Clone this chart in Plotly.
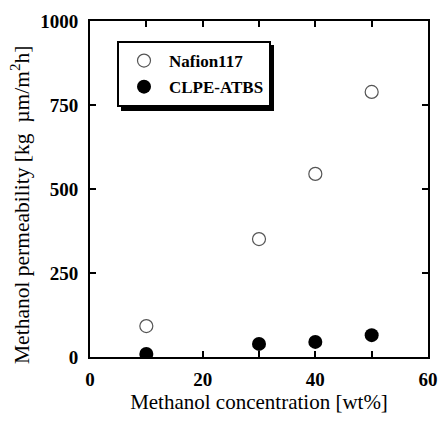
import plotly.graph_objects as go

conc = [10, 30, 40, 50]
nafion = [92, 351, 545, 789]
clpe = [9, 39, 45, 65]
series_names = ["Nafion117", "CLPE-ATBS"]

FONT = "Liberation Serif"

fig = go.Figure()
fig.add_trace(go.Scatter(
    x=conc, y=nafion, mode="markers", name=series_names[0], legendgroup="a",
    marker=dict(symbol="circle-open", size=13, color="#555555", line=dict(width=1.2)),
))
fig.add_trace(go.Scatter(
    x=conc, y=clpe, mode="markers", name=series_names[1], legendgroup="b",
    marker=dict(symbol="circle", size=14, color="black"),
))

axis_common = dict(
    showline=True, linecolor="black", linewidth=2, mirror="ticks",
    ticks="inside", ticklen=6, tickwidth=1.5, tickcolor="black",
    showgrid=False, zeroline=False, automargin=False,
    tickfont=dict(family=FONT, size=19, color="black", weight="bold"),
)

W, H = 438, 421
ML, MR, MT, MB = 90, 10, 21, 64
pw, ph = W - ML - MR, H - MT - MB

def px_x(p):
    return (p - ML) / pw

def px_y(p):
    return (H - MB - p) / ph

# legend shadow
fig.add_shape(type="rect", xref="paper", yref="paper",
              x0=px_x(121), x1=px_x(274), y0=px_y(111), y1=px_y(45),
              fillcolor="black", line=dict(width=0), layer="above")

fig.add_annotation(
    text="Methanol permeability [kg  \u00b5m/m<sup>2</sup>h]",
    xref="paper", yref="paper", x=px_x(20), y=px_y(205),
    xanchor="center", yanchor="middle", textangle=-90, showarrow=False,
    font=dict(family=FONT, size=21.5, color="black"),
)

fig.update_layout(
    width=W, height=H,
    margin=dict(l=ML, r=MR, t=MT, b=MB, autoexpand=False),
    paper_bgcolor="white", plot_bgcolor="white",
    showlegend=True,
    legend=dict(
        x=px_x(117), y=px_y(41), xanchor="left", yanchor="top",
        bordercolor="black", borderwidth=2, bgcolor="white",
        font=dict(family=FONT, size=17, color="black", weight="bold"),
        traceorder="grouped", tracegroupgap=1, itemwidth=40,
    ),
    xaxis=dict(range=[0, 60], tickvals=[0, 10, 20, 30, 40, 50, 60],
               ticktext=["0", "", "20", "", "40", "", "60"],
               ticklabelstandoff=4,
               title=dict(text="Methanol concentration [wt%]", font=dict(family=FONT, size=21, color="black"), standoff=6),
               **axis_common),
    yaxis=dict(range=[0, 1000], tickvals=[0, 250, 500, 750, 1000],
               ticklabelstandoff=6,
               **axis_common),
)

fig.write_html("out.html")
